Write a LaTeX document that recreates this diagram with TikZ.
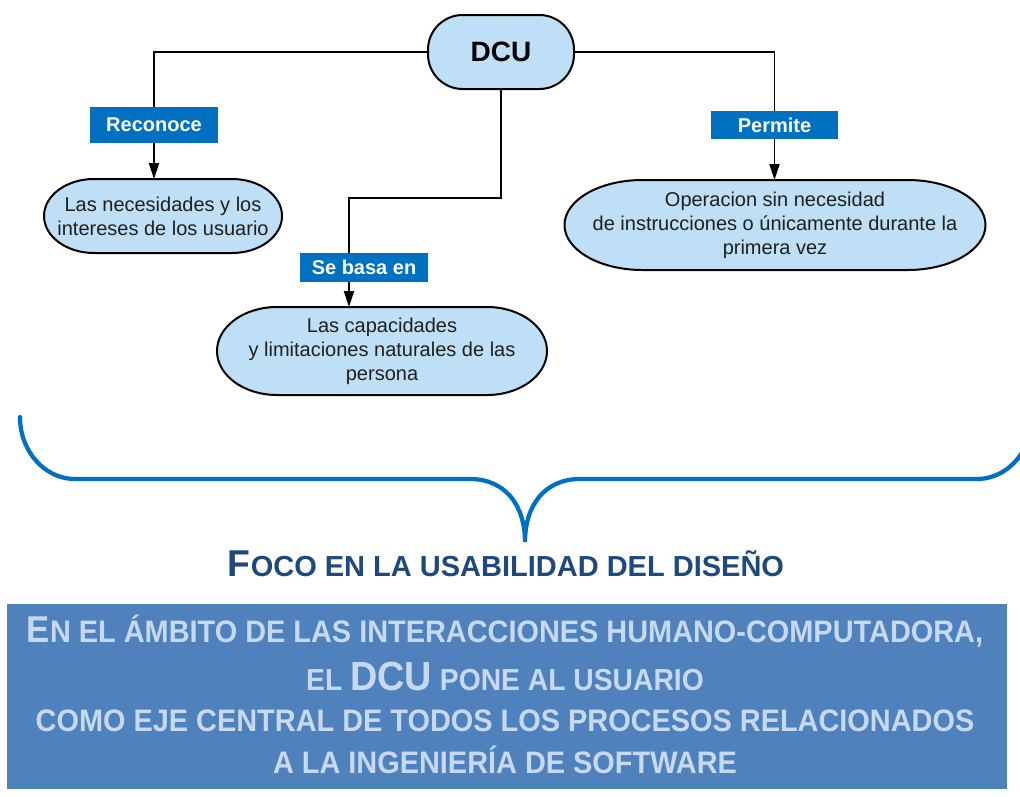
\documentclass[tikz,border=0pt]{standalone}
\usepackage{fontspec}
\setmainfont{Liberation Sans}
\newfontfamily\panelfont[FakeStretch=0.93]{Liberation Sans}
\usepackage{tikz}
\usetikzlibrary{arrows.meta,backgrounds,calc}
\definecolor{ovalfill}{RGB}{190,223,245}
\definecolor{tagblue}{RGB}{0,112,192}
\definecolor{titlenavy}{RGB}{31,73,125}
\definecolor{panelblue}{RGB}{79,129,189}
\definecolor{paneltext}{RGB}{198,217,241}
\newcommand{\fsz}[1]{\fontsize{#1}{#1}\selectfont}
\tikzset{every picture/.style={line width=0.75pt}}
\tikzset{
	rootbox/.style={draw, line width=1.5pt, fill=ovalfill, rounded corners=26pt, minimum width=109.5pt, minimum height=55.5pt, font=\bfseries\fsz{21}},
	tagbox/.style={fill=tagblue, text=white, inner sep=0pt, outer sep=0pt, font=\bfseries\fsz{15}},
	ovaltext/.style={inner sep=0pt, outer sep=0pt, align=center, text=black!88, font=\fontsize{15}{18}\selectfont},
	ovalline/.style={draw, line width=1.5pt, fill=ovalfill},
	link/.style={draw, line width=1.4pt},
	arrowlink/.style={link, -{Triangle[length=12pt,width=7.5pt]}},
	brace/.style={draw=tagblue, line width=3.2pt, line cap=round},
	panelline/.style={anchor=base, text=paneltext, font=\panelfont\bfseries\fsz{23.3}}
}
\begin{document}
\begin{tikzpicture}[x=0.75pt,y=0.75pt,yscale=-1,xscale=1]
	\useasboundingbox (0,0) rectangle (1020,796);
	
	%Root
	\node[rootbox] (dcu) at (501,52) {DCU};
	
	%Ovals
	\node[ovaltext, minimum width=178.5pt, minimum height=55.5pt] (nec) at (163,216) {Las necesidades y los\\intereses de los usuario};
	\node[ovaltext, minimum width=247.5pt, minimum height=66pt] (cap) at (382,351) {Las capacidades\\y limitaciones naturales de las\\persona};
	\node[ovaltext, minimum width=315.75pt, minimum height=67.5pt] (ope) at (775,225) {Operacion sin necesidad\\de instrucciones o únicamente durante la\\primera vez};
	\begin{scope}[on background layer]
		\foreach \n/\rx/\ry in {nec/50/37,cap/60/44,ope/78/45}
		\filldraw[ovalline] ($(\n.north east)+(-\rx,0)$) arc[start angle=-90,end angle=90,x radius=\rx,y radius=\ry] -- ($(\n.south west)+(\rx,0)$) arc[start angle=90,end angle=270,x radius=\rx,y radius=\ry] -- cycle;
	\end{scope}
	
	%Tags
	\node[tagbox, minimum width=96pt, minimum height=27pt] (reco) at (154,125) {Reconoce};
	\node[tagbox, minimum width=96pt, minimum height=21.75pt] (basa) at (364,267.5) {Se basa en};
	\node[tagbox, minimum width=95pt, minimum height=21pt] (perm) at (774.5,125) {Permite};
	\coordinate (bend) at (349,198);
	
	%Connectors
	\draw[link] (dcu.west) -| (reco.north);
	\draw[arrowlink] (reco.south) -- (reco.south |- nec.north);
	\draw[link] (dcu.south) |- (bend) -- (bend |- basa.north);
	\draw[arrowlink] (bend |- basa.south) -- (bend |- cap.north);
	\draw[link] (dcu.east) -| (perm.north);
	\draw[arrowlink] (perm.south) -- (perm.south |- ope.north);
	
	%Brace
	\draw[brace] (20,417) arc[start angle=180,end angle=90,x radius=55,y radius=62] -- (470,479) .. controls (505,479) and (525,505) .. (525,542) .. controls (525,505) and (545,479) .. (580,479) -- (977,479) arc[start angle=90,end angle=30,x radius=55,y radius=62];
	
	% Text Node
	\node[anchor=base, text=titlenavy, font=\bfseries\fsz{21.75}] (title) at (506,576) {{\fsz{28}F}OCO EN LA USABILIDAD DEL DISEÑO};
	
	%Panel
	\node[fill=panelblue, minimum width=750pt, minimum height=138.75pt, inner sep=0pt, outer sep=0pt] (panel) at (507,696.5) {};
	\node[panelline] (lineA) at (505,642) {{\fsz{28}E}N EL ÁMBITO DE LAS INTERACCIONES HUMANO-COMPUTADORA,};
	\node[panelline, font=\panelfont\bfseries\fsz{22.8}] (lineB) at (505,690) {EL {\fsz{30.5}DCU} PONE AL USUARIO};
	\node[panelline] (lineC) at (505,731) {COMO EJE CENTRAL DE TODOS LOS PROCESOS RELACIONADOS};
	\node[panelline] (lineD) at (505,773) {A LA INGENIERÍA DE SOFTWARE};
	
\end{tikzpicture}
\end{document}
